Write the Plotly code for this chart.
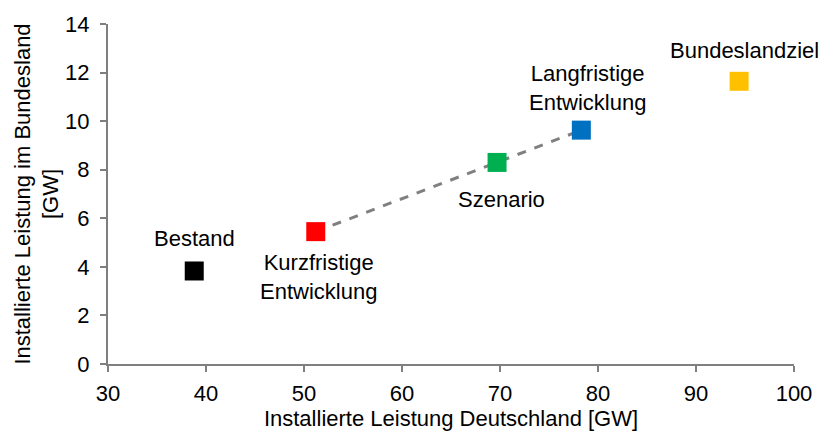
import plotly.graph_objects as go

names = ["Bestand", "Kurzfristige<br>Entwicklung", "Szenario", "Langfristige<br>Entwicklung", "Bundeslandziel"]
x_de = [38.8, 51.2, 69.7, 78.3, 94.4]
y_bl = [3.83, 5.45, 8.3, 9.63, 11.64]
colors = ["#000000", "#FF0000", "#00B050", "#0070C0", "#FFC000"]
line_idx = [1, 2, 3]
label_pos = ["above", "below", "below", "above", "above"]
label_xshift = [0, 3, 4, 6, 5]
label_yshift = [18, -16, -23, 13, 16]

FONT = "Liberation Sans, Arial, sans-serif"
FS = 22

fig = go.Figure()
fig.add_trace(go.Scatter(
    x=[x_de[i] for i in line_idx], y=[y_bl[i] for i in line_idx],
    mode="lines", line=dict(color="#808080", width=3, dash="dash"),
    hoverinfo="skip", showlegend=False))
fig.add_trace(go.Scatter(
    x=x_de, y=y_bl, mode="markers",
    marker=dict(symbol="square", size=19, color=colors, line=dict(width=0)),
    showlegend=False))

for xv, yv, name, pos, xs, ys in zip(x_de, y_bl, names, label_pos, label_xshift, label_yshift):
    fig.add_annotation(
        x=xv, y=yv, text=name, showarrow=False,
        yanchor="bottom" if pos == "above" else "top",
        xshift=xs, yshift=ys,
        font=dict(family=FONT, size=FS, color="#000000"), align="center")

axis_common = dict(
    showgrid=False, zeroline=False, showline=True, linecolor="#7f7f7f", linewidth=2,
    ticks="outside", ticklen=6, tickwidth=2, tickcolor="#7f7f7f", automargin=False,
    tickfont=dict(family=FONT, size=FS, color="#000000"))

fig.update_xaxes(range=[30, 100], dtick=10, tick0=30, ticklabelstandoff=3,
                 title=dict(text="Installierte Leistung Deutschland [GW]",
                            font=dict(family=FONT, size=FS, color="#000000"), standoff=0),
                 **axis_common)
fig.update_yaxes(range=[0, 14], dtick=2, tick0=0, ticklabelstandoff=6,
                 title=dict(text="Installierte Leistung im Bundesland<br>[GW]",
                            font=dict(family=FONT, size=FS, color="#000000"), standoff=0),
                 **axis_common)

fig.update_layout(
    width=824, height=432,
    margin=dict(l=108, r=30, t=24, b=68),
    paper_bgcolor="white", plot_bgcolor="white",
    font=dict(family=FONT))

fig.write_html(
    "out.html",
    config={"displayModeBar": False},
    post_script="document.body.style.margin='0';document.body.style.overflow='hidden';",
)
